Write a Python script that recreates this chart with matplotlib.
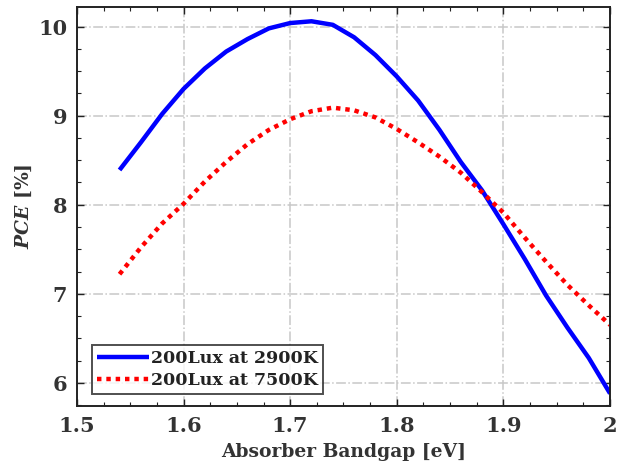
import matplotlib
matplotlib.use("Agg")
import matplotlib.pyplot as plt
from matplotlib.ticker import MultipleLocator

bandgap = [1.54, 1.56, 1.58, 1.60, 1.62, 1.64, 1.66, 1.68, 1.70, 1.72, 1.74, 1.76,
           1.78, 1.80, 1.82, 1.84, 1.86, 1.88, 1.90, 1.92, 1.94, 1.96, 1.98, 2.00]
pce_2900 = [8.39, 8.70, 9.02, 9.30, 9.53, 9.72, 9.86, 9.98, 10.04, 10.06, 10.02, 9.88,
            9.68, 9.44, 9.17, 8.84, 8.48, 8.16, 7.78, 7.39, 6.98, 6.62, 6.28, 5.88]
pce_7500 = [7.22, 7.52, 7.79, 8.01, 8.26, 8.48, 8.68, 8.84, 8.96, 9.05, 9.09, 9.06,
            8.98, 8.85, 8.70, 8.54, 8.36, 8.14, 7.91, 7.63, 7.36, 7.10, 6.87, 6.65]
labels = ["200Lux at 2900K", "200Lux at 7500K"]
xticks = [1.5, 1.6, 1.7, 1.8, 1.9, 2.0]
xticklabels = ["1.5", "1.6", "1.7", "1.8", "1.9", "2"]
yticks = [6, 7, 8, 9, 10]

plt.rcParams['font.family'] = ['DejaVu Serif']
plt.rcParams['font.weight'] = 'bold'
plt.rcParams['mathtext.fontset'] = 'custom'
plt.rcParams['mathtext.rm'] = 'DejaVu Serif:bold'
plt.rcParams['mathtext.it'] = 'DejaVu Serif:italic:bold'
plt.rcParams['mathtext.bf'] = 'DejaVu Serif:bold'

txt = '#333333'
fig = plt.figure(figsize=(6.2, 4.68), dpi=100)
ax = fig.add_axes([0.124, 0.1325, 0.86, 0.8525])

ax.plot(bandgap, pce_2900, color='#0000ff', lw=3.2, solid_capstyle='butt', label=labels[0])
ax.plot(bandgap, pce_7500, color='#ff0000', lw=3.2, linestyle=(0, (1, 1.1)), label=labels[1])

ax.set_xlim(1.5, 2.0)
ax.set_ylim(5.74, 10.22)
ax.set_xticks(xticks)
ax.set_xticklabels(xticklabels)
ax.set_yticks(yticks)
ax.xaxis.set_minor_locator(MultipleLocator(0.025))
ax.yaxis.set_minor_locator(MultipleLocator(0.25))
ax.tick_params(which='both', direction='in', top=True, right=True, color='#222222')
ax.tick_params(which='major', length=5, width=1.0, labelsize=15, labelcolor=txt, pad=7)
ax.tick_params(which='minor', length=3, width=0.8)
for lab in ax.get_xticklabels() + ax.get_yticklabels():
    lab.set_fontweight('bold')
for s in ax.spines.values():
    s.set_linewidth(1.4)
    s.set_color('#222222')

ax.grid(True, which='major', color='#c8c8c8', linestyle='-.', linewidth=1.1)
ax.set_axisbelow(True)

ax.set_xlabel('Absorber Bandgap [eV]', fontsize=13.5, fontweight='bold', color=txt, labelpad=5)
ax.set_ylabel(r'$\mathit{PCE}$ [%]', fontsize=13.5, fontweight='bold', color=txt, labelpad=3)

leg = ax.legend(loc='lower left', bbox_to_anchor=(0.028, 0.03), fontsize=12.5,
                frameon=True, fancybox=False, handlelength=3.0, handletextpad=0.1,
                borderpad=0.3, labelspacing=0.25, borderaxespad=0)
leg.get_frame().set_edgecolor('#222222')
leg.get_frame().set_linewidth(1.4)
for t in leg.get_texts():
    t.set_fontweight('bold')
    t.set_color('#222222')

fig.savefig('out.png', dpi=100)
